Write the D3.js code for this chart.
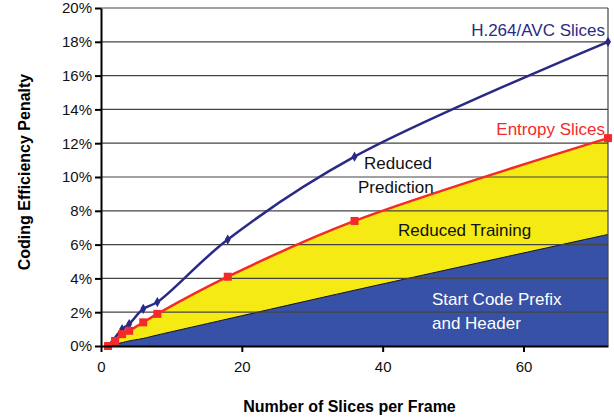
<!DOCTYPE html>
<html><head><meta charset="utf-8">
<script src="https://cdn.jsdelivr.net/npm/d3@7"></script>
<style>body{margin:0;background:#fff;font-family:"Liberation Sans",Arial,sans-serif}</style>
</head><body><div id="chart"></div>
<script>
// Data
const slices = [1, 2, 3, 4, 6, 8, 18, 36, 72];
const avcPenalty = [0, 0.5, 1.0, 1.3, 2.2, 2.6, 6.3, 11.2, 18.0];
const entropyPenalty = [0, 0.3, 0.7, 0.9, 1.4, 1.9, 4.1, 7.4, 12.3];
const headerPenalty = [0, 0.1, 0.2, 0.3, 0.45, 0.65, 1.6, 3.3, 6.6];
const yTicks = [0, 2, 4, 6, 8, 10, 12, 14, 16, 18, 20];
const xTicks = [0, 20, 40, 60];

const margin = { top: 8, right: 6, bottom: 72, left: 101 };
const width = 614, height = 418;
const w = width - margin.left - margin.right;
const h = height - margin.top - margin.bottom;

const svg = d3.select('#chart').append('svg').attr('width', width).attr('height', height);
const g = svg.append('g').attr('transform', `translate(${margin.left},${margin.top})`);

const x = d3.scaleLinear().domain([0, 72]).range([0, w]);
const y = d3.scaleLinear().domain([0, 20]).range([h, 0]);

const pts = arr => slices.map((s, i) => [s, arr[i]]);
const curve = d3.curveCatmullRom.alpha(0.5);

// Areas
g.append('path')
  .datum(slices.map((s, i) => [s, headerPenalty[i], entropyPenalty[i]]))
  .attr('fill', '#f5ea14')
  .attr('d', d3.area().curve(curve).x(d => x(d[0])).y0(d => y(d[1])).y1(d => y(d[2])));
g.append('path')
  .datum(pts(headerPenalty))
  .attr('fill', '#3651a5')
  .attr('d', d3.area().curve(curve).x(d => x(d[0])).y0(h).y1(d => y(d[1])));
g.append('path')
  .datum(pts(headerPenalty))
  .attr('fill', 'none').attr('stroke', '#111').attr('stroke-width', 1)
  .attr('d', d3.line().curve(curve).x(d => x(d[0])).y(d => y(d[1])));

// Grid
g.append('g').selectAll('line').data(yTicks.slice(1)).join('line')
  .attr('x1', 0).attr('x2', w).attr('y1', d => y(d)).attr('y2', d => y(d))
  .attr('stroke', '#444').attr('stroke-width', 1.2);
g.append('line').attr('x1', w).attr('x2', w).attr('y1', 0).attr('y2', h)
  .attr('stroke', '#444').attr('stroke-width', 1.2);

// Lines
const line = d3.line().curve(curve).x(d => x(d[0])).y(d => y(d[1]));
g.append('path').datum(pts(avcPenalty)).attr('fill', 'none')
  .attr('stroke', '#2a2a86').attr('stroke-width', 2.5).attr('d', line);
g.append('path').datum(pts(entropyPenalty)).attr('fill', 'none')
  .attr('stroke', '#f42a2a').attr('stroke-width', 2.5).attr('d', line);

g.append('g').selectAll('path').data(pts(avcPenalty).slice(2)).join('path')
  .attr('transform', d => `translate(${x(d[0])},${y(d[1])})`)
  .attr('d', d3.symbol(d3.symbolDiamond, 30)).attr('fill', '#2a2a86');
g.append('g').selectAll('rect').data(pts(entropyPenalty)).join('rect')
  .attr('x', d => x(d[0]) - 4).attr('y', d => y(d[1]) - 4)
  .attr('width', 8).attr('height', 8).attr('fill', '#f42a2a');

// Axes
const xAxis = g.append('g').attr('transform', `translate(0,${h})`)
  .call(d3.axisBottom(x).tickValues(xTicks).tickSize(6).tickSizeOuter(0));
const yAxis = g.append('g')
  .call(d3.axisLeft(y).tickValues(yTicks).tickFormat(d => d + '%').tickSize(6).tickSizeOuter(0));
[xAxis, yAxis].forEach(a => {
  a.selectAll('path,line').attr('stroke', '#000').attr('stroke-width', 2);
  a.selectAll('text').attr('font-size', 15).attr('fill', '#111')
    .attr('font-family', '"Liberation Sans",Arial,sans-serif');
});
xAxis.selectAll('text').attr('dy', '1.1em');

// Titles
svg.append('text').attr('x', margin.left + w / 2 - 5).attr('y', 412)
  .attr('text-anchor', 'middle').attr('font-size', 16).attr('font-weight', 'bold')
  .text('Number of Slices per Frame');
svg.append('text').attr('transform', `translate(30,${margin.top + h / 2 - 5}) rotate(-90)`)
  .attr('text-anchor', 'middle').attr('font-size', 16).attr('font-weight', 'bold')
  .text('Coding Efficiency Penalty');

// Labels
const lab = (t, px, py, col, anchor) => svg.append('text').attr('x', px).attr('y', py)
  .attr('font-size', 17).attr('fill', col).attr('text-anchor', anchor || 'start').text(t);
lab('H.264/AVC Slices', 605, 36, '#2a2a86', 'end');
lab('Entropy Slices', 605, 135, '#f42a2a', 'end');
lab('Reduced', 364, 169, '#111');
lab('Prediction', 358, 193, '#111');
lab('Reduced Training', 398, 236, '#111');
lab('Start Code Prefix', 432, 305, '#fff');
lab('and Header', 432, 329, '#fff');
</script></body></html>
